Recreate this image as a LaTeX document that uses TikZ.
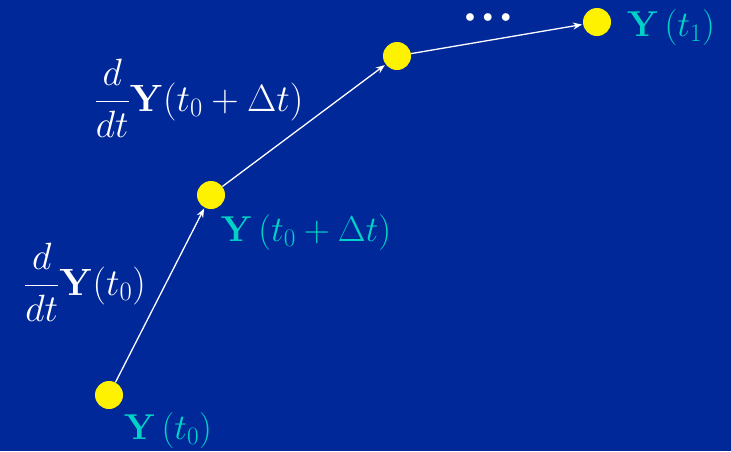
\RequirePackage{fix-cm}
\documentclass[tikz,border=0pt]{standalone}
\usepackage{amsmath}
\usetikzlibrary{arrows.meta}
\definecolor{slideblue}{RGB}{0,40,153}
\definecolor{labcyan}{RGB}{0,210,200}
\tikzset{
    pt/.style={circle,fill=yellow,minimum size=28pt,inner sep=0pt},
    ylab/.style={text=labcyan,font=\fontsize{36}{40}\selectfont,inner sep=0pt},
    dlab/.style={text=white,font=\fontsize{38}{42}\selectfont,inner sep=0pt},
    step arrow/.style={-{Stealth[length=9pt,width=7pt]},white,line width=1.3pt,shorten >=1pt,shorten <=0pt}
}
\begin{document}
\begin{tikzpicture}[x=1pt,y=-1pt]
    \fill[slideblue] (0,0) rectangle (731,451);
    \useasboundingbox (0,0) rectangle (731,451);
    \node[pt] (p0) at (109,395) {};
    \node[pt] (p1) at (211,195) {};
    \node[pt] (p2) at (397,56) {};
    \node[pt] (p3) at (597,22) {};
    \draw[step arrow] (p0) -- (p1);
    \draw[step arrow] (p1) -- (p2);
    \draw[step arrow] (p2) -- (p3);
    \node[ylab] (l0) at (168,430) {$\mathbf{Y}\,(t_0)$};
    \node[ylab] (l1) at (306,232) {$\mathbf{Y}\,(t_0+\Delta t)$};
    \node[ylab] (l3) at (671,27) {$\mathbf{Y}\,(t_1)$};
    \node[dlab] (d0) at (85,282) {$\dfrac{d}{dt}\mathbf{Y}(t_0)$};
    \node[dlab] (d1) at (199,98) {$\dfrac{d}{dt}\mathbf{Y}(t_0+\Delta t)$};
    \node[dlab,font=\fontsize{20}{20}\selectfont] (dots) at (488,18) {$\bullet\,\bullet\,\bullet$};
\end{tikzpicture}
\end{document}
